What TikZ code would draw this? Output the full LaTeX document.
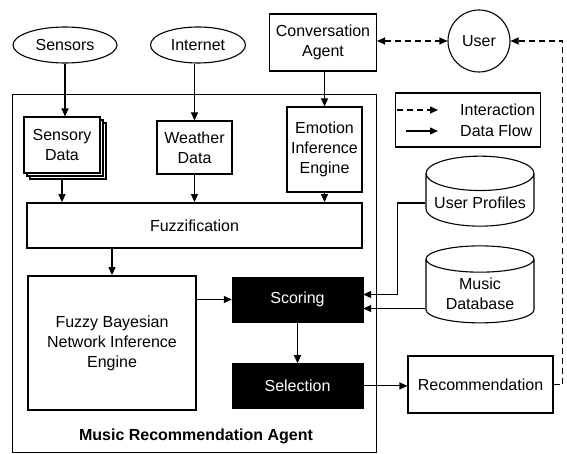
\documentclass[tikz,border=0pt]{standalone}
\usepackage{fontspec}
\setmainfont{Liberation Sans}
\usetikzlibrary{arrows.meta,positioning,shapes.geometric,shadows}

\begin{document}
\begin{tikzpicture}[
    x=1pt, y=-1pt,
    font=\fontsize{16}{20}\selectfont,
    box/.style={draw, line width=1.1pt, align=center, inner sep=2pt},
    heavy/.style={draw, line width=1.8pt, align=center, inner sep=2pt},
    src/.style={draw, line width=1.1pt, ellipse, inner sep=0pt},
    blk/.style={draw, fill=black, text=white, minimum width=131pt, minimum height=45pt},
    db/.style={draw, line width=1.1pt, cylinder, shape border rotate=90, aspect=0.35, align=center, minimum width=108pt},
    arr/.style={-{Triangle[length=8pt,width=7pt]}, line width=1.1pt},
    iarr/.style={-{Triangle[length=8pt,width=7pt]}, line width=1.1pt, dash pattern=on 6pt off 4pt}
  ]
    \useasboundingbox (0,0) rectangle (567,454);
    % agent frame
    \draw[line width=0.8pt] (12,94) rectangle (376,452);
    \node[font=\fontsize{16}{20}\selectfont\bfseries] (title) at (196,436) {Music Recommendation Agent};

    \node[src, minimum width=104pt, minimum height=36pt] (sensors) at (65,45) {Sensors};
    \node[src, minimum width=95pt, minimum height=36pt] (internet) at (198,45) {Internet};
    \node[box, minimum width=107pt, minimum height=57pt] (conv) at (323,42.5) {Conversation\\Agent};
    \node[draw, line width=1.1pt, circle, minimum size=62pt, inner sep=0pt] (user) at (479,41) {User};

    \node[box, fill=white, minimum width=76pt, minimum height=56pt,
          double copy shadow={shadow xshift=3pt, shadow yshift=-3pt}] (sensory) at (62,145) {Sensory\\Data};
    \node[box, minimum width=75pt, minimum height=53pt] (weather) at (194.5,147.5) {Weather\\Data};
    \node[box, minimum width=75pt, minimum height=85pt] (emotion) at (324.5,149.5) {Emotion\\Inference\\Engine};
    \node[heavy, minimum width=335pt, minimum height=45pt] (fuzz) at (194.5,225.5) {Fuzzification};
    \node[heavy, minimum width=168pt, minimum height=134pt] (fbn) at (112,343) {Fuzzy Bayesian\\Network Inference\\Engine};
    \node[blk] (scoring) at (297.5,299.5) {Scoring};
    \node[blk, below=41pt of scoring] (selection) {Selection};
    \node[box, minimum width=145pt, minimum height=57pt] (rec) at (480.5,384.5) {Recommendation};

    \node[db, minimum height=70pt] (profiles) at (480,203) {User Profiles};
    \node[db, minimum height=77pt] (musicdb) at (480,293.5) {Music\\Database};

    % legend
    \node[draw, line width=1.1pt, minimum width=145pt, minimum height=54pt] (legend) at (468,120) {};
    \node[anchor=west, inner sep=0pt] (inter) at (460,110) {Interaction};
    \node[anchor=west, inner sep=0pt] (flow) at (460,131) {Data Flow};
    \draw[iarr] ([xshift=-63pt]inter.west) -- ([xshift=-22pt]inter.west);
    \draw[arr] ([xshift=-54pt]flow.west) -- ([xshift=-22pt]flow.west);

    % data flow
    \draw[arr] (sensors.south) -- (sensors.south |- sensory.north);
    \draw[arr] (internet.south -| weather.north) -- (weather.north);
    \draw[arr] (conv.south -| emotion.north) -- (emotion.north);
    \draw[arr] ([yshift=-6pt]sensory.south) -- (sensory.south |- fuzz.north);
    \draw[arr] (weather.south) -- (weather.south |- fuzz.north);
    \draw[arr] (emotion.south) -- (emotion.south |- fuzz.north);
    \draw[arr] (fbn.north |- fuzz.south) -- (fbn.north);
    \draw[arr] (fbn.east |- scoring.west) -- (scoring.west);
    \draw[arr] (scoring) -- (selection);
    \draw[arr] (selection.east) -- (selection.east -| rec.west);
    \draw[arr] (profiles.west) -- ++(-28,0) |- ([yshift=5pt]scoring.east);
    \draw[arr] ([yshift=-9pt]scoring.east -| musicdb.west) -- ([yshift=-9pt]scoring.east);

    % interaction
    \draw[iarr, {Triangle[length=8pt,width=7pt]}-{Triangle[length=8pt,width=7pt]}] (user.west -| conv.east) -- (user.west);
    \draw[iarr] (rec.east) -- ++(9,0) |- (user.east);
  \end{tikzpicture}
\end{document}
